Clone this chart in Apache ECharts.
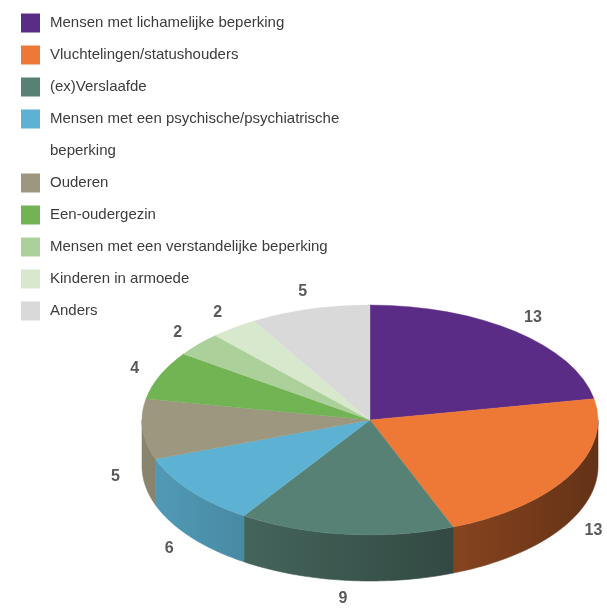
<!DOCTYPE html>
<html>
<head>
<meta charset="utf-8">
<script src="https://cdn.jsdelivr.net/npm/echarts@6/dist/echarts.min.js"></script>
<style>
  html, body { margin: 0; padding: 0; background: #fff; }
  #chart { width: 607px; height: 613px; }
</style>
</head>
<body>
<div id="chart"></div>
<script>
// doelgroepen en aantallen
var categories = [
  'Mensen met lichamelijke beperking',
  'Vluchtelingen/statushouders',
  '(ex)Verslaafde',
  'Mensen met een psychische/psychiatrische\nbeperking',
  'Ouderen',
  'Een-oudergezin',
  'Mensen met een verstandelijke beperking',
  'Kinderen in armoede',
  'Anders'
];
var values = [13, 13, 9, 6, 5, 4, 2, 2, 5];
var colors = ['#5b2c86', '#ee7836', '#578175', '#5db1d2', '#9c977e', '#72b354', '#acd09a', '#d8e8cd', '#d9d9d9'];

// vorm van de 3d taart
var PIE = { cx: 370, cy: 420, rx: 228, ry: 115, depth: 46 };

var total = values.reduce(function (s, v) { return s + v; }, 0);
var starts = [];
var acc = 0;
values.forEach(function (v) { starts.push(acc); acc += v; });

function shade(hex, f) {
  var n = parseInt(hex.slice(1), 16);
  var r = Math.round(((n >> 16) & 255) * f);
  var g = Math.round(((n >> 8) & 255) * f);
  var b = Math.round((n & 255) * f);
  return 'rgb(' + r + ',' + g + ',' + b + ')';
}

function rim(t, dy) {
  var a = t * Math.PI / 180;
  return [PIE.cx + PIE.rx * Math.sin(a), PIE.cy - PIE.ry * Math.cos(a) + dy];
}

function renderSlice(params, api) {
  var i = params.dataIndex;
  var v = api.value(0);
  var c = colors[i];
  var a0 = starts[i] / total * 360;
  var a1 = (starts[i] + v) / total * 360;
  var children = [];

  // zijwand (alleen de voorkant is zichtbaar)
  var lo = Math.max(a0, 90), hi = Math.min(a1, 270);
  if (hi > lo) {
    var top = [], bottom = [];
    var n = Math.ceil(hi - lo) + 1;
    for (var k = 0; k <= n; k++) {
      var t = lo + (hi - lo) * k / n;
      top.push(rim(t, 0));
      bottom.unshift(rim(t, PIE.depth));
    }
    var grad = new echarts.graphic.LinearGradient(PIE.cx - PIE.rx, 0, PIE.cx + PIE.rx, 0, [
      { offset: 0, color: shade(c, 0.88) },
      { offset: 1, color: shade(c, 0.42) }
    ], true);
    children.push({
      type: 'polygon',
      shape: { points: top.concat(bottom) },
      style: { fill: grad, stroke: grad, lineWidth: 0.6 }
    });
  }

  // bovenvlak
  children.push({
    type: 'sector',
    x: PIE.cx,
    y: PIE.cy,
    scaleY: PIE.ry / PIE.rx,
    shape: {
      cx: 0, cy: 0, r0: 0, r: PIE.rx,
      startAngle: (a0 - 90) * Math.PI / 180,
      endAngle: (a1 - 90) * Math.PI / 180,
      clockwise: true
    },
    style: { fill: c, stroke: c, lineWidth: 0.5 }
  });

  // label
  var m = (a0 + a1) / 2;
  var ma = m * Math.PI / 180;
  var lx = PIE.cx + PIE.rx * 1.12 * Math.sin(ma);
  var ly = PIE.cy - PIE.ry * 1.16 * Math.cos(ma) + (m > 90 && m < 270 ? PIE.depth : 0);
  children.push({
    type: 'text',
    x: lx,
    y: ly,
    style: {
      text: String(v),
      align: 'center',
      verticalAlign: 'middle',
      fill: '#595959',
      font: 'bold 16px "Liberation Sans", Arial, sans-serif'
    }
  });

  return { type: 'group', children: children };
}

var legendText = {
  color: '#3c3c3c',
  fontSize: 15,
  fontFamily: '"Liberation Sans", Arial, sans-serif',
  lineHeight: 32,
  padding: [0, 0, 0, 5]
};

// lange naam: lege eerste regel zodat het blokje bij de eerste tekstregel staat
function legendName(name) {
  return name.indexOf('\n') >= 0 ? '\n' + name : name;
}

var chart = echarts.init(document.getElementById('chart'));
var option = {
  animation: false,
  color: colors,
  legend: [{
    orient: 'vertical',
    left: 21,
    top: 7,
    padding: 0,
    itemGap: 0,
    itemWidth: 19,
    itemHeight: 19,
    icon: 'rect',
    selectedMode: false,
    textStyle: legendText,
    data: categories.slice(0, 3)
  }, {
    orient: 'vertical',
    left: 21,
    top: 71,
    padding: 0,
    itemGap: 0,
    itemWidth: 19,
    itemHeight: 19,
    icon: 'rect',
    selectedMode: false,
    textStyle: legendText,
    formatter: legendName,
    data: categories.slice(3)
  }],
  series: [{
    // alleen voor de legenda
    type: 'pie',
    radius: [0, 0],
    silent: true,
    label: { show: false },
    labelLine: { show: false },
    data: categories.map(function (name, i) { return { name: name, value: values[i] }; })
  }, {
    type: 'custom',
    coordinateSystem: 'none',
    renderItem: renderSlice,
    silent: true,
    data: values.map(function (v, i) { return { name: categories[i], value: v }; })
  }]
};
chart.setOption(option);
window.onresize = chart.resize;
</script>
</body>
</html>
